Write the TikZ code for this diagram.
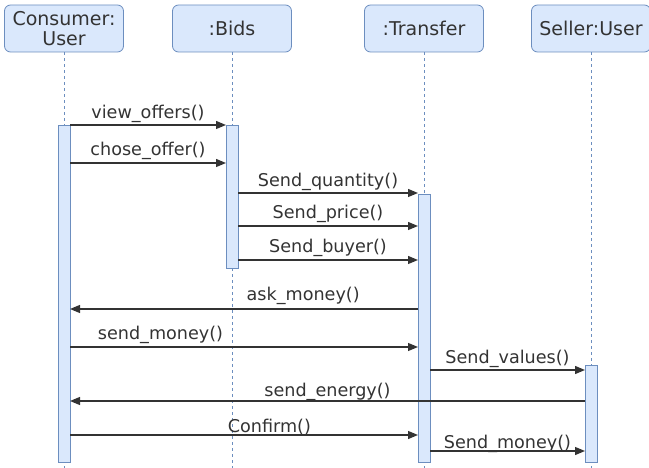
\documentclass[tikz,border=0pt]{standalone}
\usepackage{fontspec}
\setmainfont{DejaVu Sans}
\usetikzlibrary{arrows.meta}
\definecolor{boxfill}{HTML}{DAE8FC}
\definecolor{boxline}{HTML}{6C8EBF}
\definecolor{ink}{HTML}{333333}
\tikzset{
    head/.style={draw=boxline, fill=boxfill, rounded corners=6pt, line width=0.8pt,
        minimum width=119pt, minimum height=47pt, inner sep=0pt, align=center,
        text=ink, font=\fontsize{19}{20}\selectfont},
    bar/.style={draw=boxline, fill=boxfill, line width=0.8pt, minimum width=12pt, inner sep=0pt},
    life/.style={boxline, line width=0.7pt, dash pattern=on 3pt off 3pt},
    msg/.style={-{Triangle[length=10pt,width=8pt]}, line width=1.2pt, ink},
    lbl/.style={anchor=base, yshift=6pt, inner sep=0pt, text=ink,
        font=\fontsize{17.6}{20}\selectfont}
}
\begin{document}
\begin{tikzpicture}[x=1pt, y=-1pt]
                \useasboundingbox (0,0) rectangle (649,468);

                \node[head] (consumer) at (64,28.5)  {Consumer:\\User};
                \node[head] (bids)     at (232,28.5) {:Bids};
                \node[head] (transfer) at (424,28.5) {:Transfer};
                \node[head] (seller)   at (591,28.5) {Seller:User};

                \coordinate (consumerend) at (64,468);
                \coordinate (bidsend)     at (232,468);
                \coordinate (transferend) at (424,468);
                \coordinate (sellerend)   at (591,468);

                \draw[life] (consumer) -- (consumerend);
                \draw[life] (bids)     -- (bidsend);
                \draw[life] (transfer) -- (transferend);
                \draw[life] (seller)   -- (sellerend);

                \node[bar, minimum height=337pt] (consumerbar) at (64,293.5)  {};
                \node[bar, minimum height=143pt] (bidsbar)     at (232,196.5) {};
                \node[bar, minimum height=268pt] (transferbar) at (424,328)   {};
                \node[bar, minimum height=97pt]  (sellerbar)   at (591,413.5) {};

                \coordinate (vo1) at (70,125);   \coordinate (vo2) at (226,125);
                \coordinate (co1) at (70,163);   \coordinate (co2) at (226,163);
                \coordinate (sq1) at (238,193);  \coordinate (sq2) at (418,193);
                \coordinate (sp1) at (238,226);  \coordinate (sp2) at (418,226);
                \coordinate (sb1) at (238,260);  \coordinate (sb2) at (418,260);
                \coordinate (am1) at (418,309);  \coordinate (am2) at (70,309);
                \coordinate (sm1) at (70,347);   \coordinate (sm2) at (418,347);
                \coordinate (sv1) at (430,370);  \coordinate (sv2) at (585,370);
                \coordinate (se1) at (585,401);  \coordinate (se2) at (70,401);
                \coordinate (cf1) at (70,435);   \coordinate (cf2) at (418,435);
                \coordinate (st1) at (430,451);  \coordinate (st2) at (585,451);

                \draw[msg] (vo1) -- node[lbl] {view\_offers()} (vo2);
                \draw[msg] (co1) -- node[lbl, yshift=1pt] {chose\_offer()} (co2);
                \draw[msg] (sq1) -- node[lbl] {Send\_quantity()} (sq2);
                \draw[msg] (sp1) -- node[lbl, yshift=1pt] {Send\_price()} (sp2);
                \draw[msg] (sb1) -- node[lbl, yshift=1pt] {Send\_buyer()} (sb2);
                \draw[msg] (am1) -- node[lbl, pos=0.33, yshift=2pt] {ask\_money()} (am2);
                \draw[msg] (sm1) -- node[lbl, pos=0.26, yshift=1pt] {send\_money()} (sm2);
                \draw[msg] (sv1) -- node[lbl, yshift=1pt] {Send\_values()} (sv2);
                \draw[msg] (se1) -- node[lbl, yshift=-1pt] {send\_energy()} (se2);
                \draw[msg] (cf1) -- node[lbl, pos=0.573, yshift=-3pt] {Confirm()} (cf2);
                \draw[msg] (st1) -- node[lbl, yshift=-3pt] {Send\_money()} (st2);
            \end{tikzpicture}
\end{document}
